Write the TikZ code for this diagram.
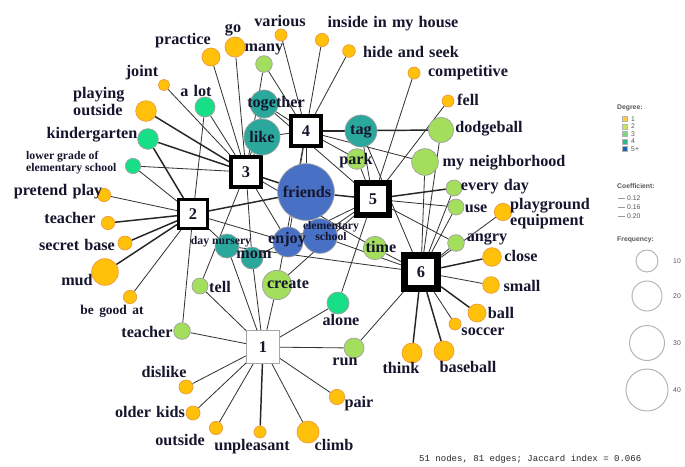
\documentclass[tikz,border=0pt]{standalone}
\usepackage{fontspec}
\setmainfont{Liberation Serif}
\setsansfont{Liberation Sans}
\setmonofont{Liberation Mono}
\usepackage{xcolor}
\usepackage{tikz}
\usetikzlibrary{positioning,backgrounds}
\definecolor{degone}{HTML}{FFC10A}
\definecolor{degoneedge}{HTML}{EE9A3A}
\definecolor{degtwo}{HTML}{A3DF5C}
\definecolor{degthree}{HTML}{16DF88}
\definecolor{degfour}{HTML}{2AA89C}
\definecolor{degfive}{HTML}{4871C6}
\definecolor{legone}{HTML}{FFC94A}
\definecolor{legtwo}{HTML}{C8E85C}
\definecolor{legthree}{HTML}{80D680}
\definecolor{legfour}{HTML}{2CB68A}
\definecolor{legfive}{HTML}{1E64A8}
\definecolor{ink}{HTML}{15152E}
\definecolor{legink}{HTML}{555555}
\newcommand\labfont{\fontsize{13.8}{12}\selectfont\bfseries\spaceskip=0.32em\relax}
\newcommand\goodfont{\fontsize{11.5}{12}\selectfont\bfseries\spaceskip=0.4em\relax}
\newcommand\twofont{\fontsize{13.8}{11}\selectfont\bfseries}
\newcommand\poutfont{\fontsize{13.8}{14.5}\selectfont\bfseries}
\newcommand\smlfont{\fontsize{10}{9}\selectfont\bfseries}
\newcommand\legfont{\sffamily\fontsize{5.8}{6}\selectfont}

\begin{document}
\begin{tikzpicture}[
    x=0.03cm,y=-0.03cm,
    wd/.style     = {circle,inner sep=0pt,line width=0.6pt},
    d1/.style     = {wd,draw=degoneedge,fill=degone},
    d2/.style     = {wd,draw=gray!75,fill=degtwo},
    d3/.style     = {wd,draw=gray!75,fill=degthree},
    d4/.style     = {wd,draw=gray!75,fill=degfour},
    d5/.style     = {wd,draw=gray!75,fill=degfive},
    grp/.style    = {rectangle,draw=black,fill=white,inner sep=0pt,
                     font=\fontsize{14}{14}\selectfont\bfseries,text=ink},
    lab/.style    = {font=\labfont,text=ink,inner sep=0pt},
    slab/.style   = {font=\smlfont,text=ink,inner sep=0pt},
    edge/.style   = {black!80,line width=0.7pt},
    edgeb/.style  = {black!85,line width=1.25pt},
    leg/.style    = {font=\legfont,text=legink,inner sep=0pt,anchor=west},
    legsq/.style  = {rectangle,draw=gray!60,line width=0.3pt,minimum size=0.16cm,inner sep=0pt},
    fq/.style     = {circle,draw=gray!60,line width=0.8pt,inner sep=0pt},
  ]
  \useasboundingbox (0,0) rectangle (685,466);

  % ── Groups ────────────────────────────────────────────────────────────────
  \node[grp,draw=gray!70,line width=0.6pt,minimum size=0.97cm] (g1) at (263,347) {1};
  \node[grp,line width=2.4pt,minimum size=0.88cm] (g2) at (193,214) {2};
  \node[grp,line width=3.4pt,minimum size=0.9cm]  (g3) at (246,172) {3};
  \node[grp,line width=3.4pt,minimum size=0.9cm]  (g4) at (306,131) {4};
  \node[grp,line width=4.4pt,minimum size=0.96cm] (g5) at (373,199) {5};
  \node[grp,line width=6pt,minimum size=1.0cm]    (g6) at (421,272) {6};

  % ── Words ─────────────────────────────────────────────────────────────────
  \node[d1,minimum size=.54cm] (prac)   at (211,57)  {};
  \node[d1,minimum size=.6cm]  (go)     at (235,47)  {};
  \node[d1,minimum size=.36cm] (var)    at (281,35)  {};
  \node[d1,minimum size=.4cm]  (inh)    at (322,40)  {};
  \node[d1,minimum size=.38cm] (hide)   at (349,51)  {};
  \node[d1,minimum size=.36cm] (comp)   at (414,73)  {};
  \node[d1,minimum size=.36cm] (fell)   at (448,101) {};
  \node[d2,minimum size=.76cm] (dodge)  at (441,130) {};
  \node[d2,minimum size=.8cm]  (neigh)  at (425,162) {};
  \node[d2,minimum size=.48cm] (eday)   at (454,188) {};
  \node[d2,minimum size=.48cm] (use)    at (456,207) {};
  \node[d1,minimum size=.52cm] (pleq)   at (503,212) {};
  \node[d2,minimum size=.5cm]  (angry)  at (456,243) {};
  \node[d1,minimum size=.56cm] (close)  at (492,257) {};
  \node[d1,minimum size=.5cm]  (small)  at (491,285) {};
  \node[d1,minimum size=.54cm] (ball)   at (477,313) {};
  \node[d1,minimum size=.36cm] (socc)   at (455,324) {};
  \node[d1,minimum size=.6cm]  (base)   at (444,351) {};
  \node[d1,minimum size=.6cm]  (think)  at (412,353) {};
  \node[d2,minimum size=.6cm]  (run)    at (354,348) {};
  \node[d1,minimum size=.46cm] (pair)   at (337,397) {};
  \node[d1,minimum size=.66cm] (climb)  at (308,432) {};
  \node[d1,minimum size=.36cm] (unpl)   at (260,432) {};
  \node[d1,minimum size=.4cm]  (outs)   at (216,428) {};
  \node[d1,minimum size=.42cm] (older)  at (193,413) {};
  \node[d1,minimum size=.42cm] (disl)   at (186,387) {};
  \node[d2,minimum size=.5cm]  (teach)  at (182,331) {};
  \node[d1,minimum size=.4cm]  (good)   at (130,297) {};
  \node[d1,minimum size=.8cm]  (mud)    at (105,272) {};
  \node[d1,minimum size=.42cm] (sbase)  at (125,243) {};
  \node[d1,minimum size=.4cm]  (teachb) at (108,223) {};
  \node[d1,minimum size=.4cm]  (pret)   at (104,195) {};
  \node[d3,minimum size=.46cm] (lowg)   at (133,166) {};
  \node[d3,minimum size=.62cm] (kind)   at (148,139) {};
  \node[d1,minimum size=.62cm] (pout)   at (146,111) {};
  \node[d1,minimum size=.34cm] (joint)  at (164,85)  {};
  \node[d3,minimum size=.6cm]  (alot)   at (205,107) {};
  \node[d2,minimum size=.5cm]  (many)   at (264,64)  {};
  \node[d4,minimum size=.84cm] (tog)    at (264,104) {};
  \node[d4,minimum size=1.08cm](like)   at (262,137) {};
  \node[d4,minimum size=.96cm] (tag)    at (361,131) {};
  \node[d2,minimum size=.62cm] (park)   at (357,159) {};
  \node[d5,minimum size=1.7cm] (fri)    at (306,192) {};
  \node[d5,minimum size=1.04cm](elem)   at (320,236) {};
  \node[d5,minimum size=.9cm]  (enj)    at (288,242) {};
  \node[d4,minimum size=.72cm] (dayn)   at (227,246) {};
  \node[d4,minimum size=.66cm] (mom)    at (252,258) {};
  \node[d2,minimum size=.7cm]  (time)   at (375,248) {};
  \node[d2,minimum size=.48cm] (tell)   at (200,286) {};
  \node[d2,minimum size=.88cm] (cre)    at (277,285) {};
  \node[d3,minimum size=.66cm] (alone)  at (338,303) {};

  % ── Edges ─────────────────────────────────────────────────────────────────
  \begin{scope}[on background layer]
    \fill[white] (0,0) rectangle (685,466);
    \foreach \n in {teach,tell,dayn,mom,cre,alone,run,pair,climb,outs,older,disl}
      \draw[edge] (g1) -- (\n);
    \draw[edgeb] (g1) -- (unpl);
    \foreach \n in {pret,good,teach,lowg,alot,dayn,enj}
      \draw[edge] (g2) -- (\n);
    \foreach \n in {mud,sbase,teachb,kind,fri}
      \draw[edgeb] (g2) -- (\n);
    \foreach \n in {prac,go,joint,lowg,alot,tog,like,many,tell,mom,enj,time}
      \draw[edge] (g3) -- (\n);
    \foreach \n in {pout,kind,fri}
      \draw[edgeb] (g3) -- (\n);
    \foreach \n in {var,inh,hide,many,tog,like,tag,neigh,park,fri,enj,cre}
      \draw[edge] (g4) -- (\n);
    \draw[edgeb] (g4) -- (dodge);
    \foreach \n in {comp,fell,park,tag,use,angry,elem,alone,tog,mom,cre}
      \draw[edge] (g5) -- (\n);
    \foreach \n in {eday,fri}
      \draw[edgeb] (g5) -- (\n);
    \foreach \n in {pleq,small,socc,run,angry,use,eday,neigh,dodge,tag,time,elem,dayn}
      \draw[edge] (g6) -- (\n);
    \foreach \n in {close,ball,base,think}
      \draw[edgeb] (g6) -- (\n);
  \end{scope}

  % ── Labels ────────────────────────────────────────────────────────────────
  \node[lab] (t-prac)  at (183,41)  {practice};
  \node[lab] (t-go)    at (233,30)  {go};
  \node[lab] (t-var)   at (280,21)  {various};
  \node[lab] (t-inh)   at (393,24)  {inside in my house};
  \node[lab] (t-hide)  at (411,52)  {hide and seek};
  \node[lab] (t-comp)  at (468,73)  {competitive};
  \node[lab] (t-fell)  at (468,100) {fell};
  \node[lab] (t-dodge) at (489,129) {dodgeball};
  \node[lab] (t-neigh) at (504,163) {my neighborhood};
  \node[lab] (t-eday)  at (495,187) {every day};
  \node[lab] (t-use)   at (476,209) {use};
  \node[lab,align=left,anchor=west,font=\twofont]
             (t-pleq)  at (510,214) {playground\\equipment};
  \node[lab] (t-angry) at (487,239) {angry};
  \node[lab] (t-close) at (521,256) {close};
  \node[lab] (t-small) at (522,286) {small};
  \node[lab] (t-ball)  at (501,313) {ball};
  \node[lab] (t-socc)  at (483,332) {soccer};
  \node[lab] (t-base)  at (468,367) {baseball};
  \node[lab] (t-think) at (401,368) {think};
  \node[lab] (t-run)   at (345,362) {run};
  \node[lab] (t-pair)  at (359,404) {pair};
  \node[lab] (t-climb) at (334,445) {climb};
  \node[lab] (t-unpl)  at (252,447) {unpleasant};
  \node[lab] (t-outs)  at (180,440) {outside};
  \node[lab] (t-older) at (150,412) {older kids};
  \node[lab] (t-disl)  at (164,372) {dislike};
  \node[lab] (t-teach) at (147,332) {teacher};
  \node[lab,font=\goodfont] (t-good) at (112,311) {be good at};
  \node[lab] (t-mud)   at (77,280)  {mud};
  \node[lab] (t-sbase) at (77,245)  {secret base};
  \node[lab] (t-teachb)at (70,218)  {teacher};
  \node[lab] (t-pret)  at (58,192)  {pretend play};
  \node[slab,align=left,anchor=west] (t-lowg) at (26,163) {lower grade of\\elementary school};
  \node[lab] (t-kind)  at (92,135)  {kindergarten};
  \node[lab,align=left,anchor=west,font=\poutfont]
             (t-pout)  at (73,101)  {playing\\outside};
  \node[lab] (t-joint) at (142,73)  {joint};
  \node[lab] (t-alot)  at (196,91)  {a lot};
  \node[lab] (t-many)  at (264,49)  {many};
  \node[lab] (t-tog)   at (276,104) {together};
  \node[lab] (t-like)  at (262,137) {like};
  \node[lab] (t-tag)   at (361,132) {tag};
  \node[lab] (t-park)  at (356,161) {park};
  \node[lab] (t-fri)   at (307,192) {friends};
  \node[slab,align=center] (t-elem) at (331,231) {elementary\\school};
  \node[lab] (t-enj)   at (287,240) {enjoy};
  \node[slab] (t-dayn) at (221,242) {day nursery};
  \node[lab] (t-mom)   at (254,255) {mom};
  \node[lab] (t-time)  at (381,247) {time};
  \node[lab] (t-tell)  at (220,287) {tell};
  \node[lab] (t-cre)   at (288,284) {create};
  \node[lab] (t-alone) at (341,320) {alone};

  % ── Legend ────────────────────────────────────────────────────────────────
  \node[leg,font=\legfont\bfseries] (legdeg) at (617,108) {Degree:};
  \foreach \c/\t [count=\i] in {legone/1,legtwo/2,legthree/3,legfour/4,legfive/5+} {
    \node[legsq,fill=\c] (sq\i) at (624.5,111.5+7.5*\i) {};
    \node[leg] (sqt\i) at (631,111.5+7.5*\i) {\t};
  }
  \node[leg,font=\legfont\bfseries] (legcoef) at (617,186) {Coefficient:};
  \foreach \t/\w [count=\i] in {0.12/0.35pt,0.16/0.55pt,0.20/0.8pt} {
    \draw[gray!80,line width=\w] (618,189+9*\i) -- (625,189+9*\i);
    \node[leg] (cf\i) at (627,189+9*\i) {\t};
  }
  \node[leg,font=\legfont\bfseries] (legfreq) at (617,240) {Frequency:};
  \node[fq,minimum size=.66cm] (fq1) at (647,261) {};
  \node[fq,minimum size=.9cm]  (fq2) at (647,296) {};
  \node[fq,minimum size=1.05cm](fq3) at (647,343) {};
  \node[fq,minimum size=1.26cm](fq4) at (647,390) {};
  \foreach \t [count=\i] in {10,20,30,40}
    \node[leg] (fqt\i) at (673,0 |- fq\i) {\t};

  \node[anchor=west,font=\ttfamily\fontsize{7.7}{8}\selectfont,text=black!85,inner sep=0pt]
       (stats) at (419,459) {51 nodes, 81 edges;  Jaccard index = 0.066};

\end{tikzpicture}
\end{document}
